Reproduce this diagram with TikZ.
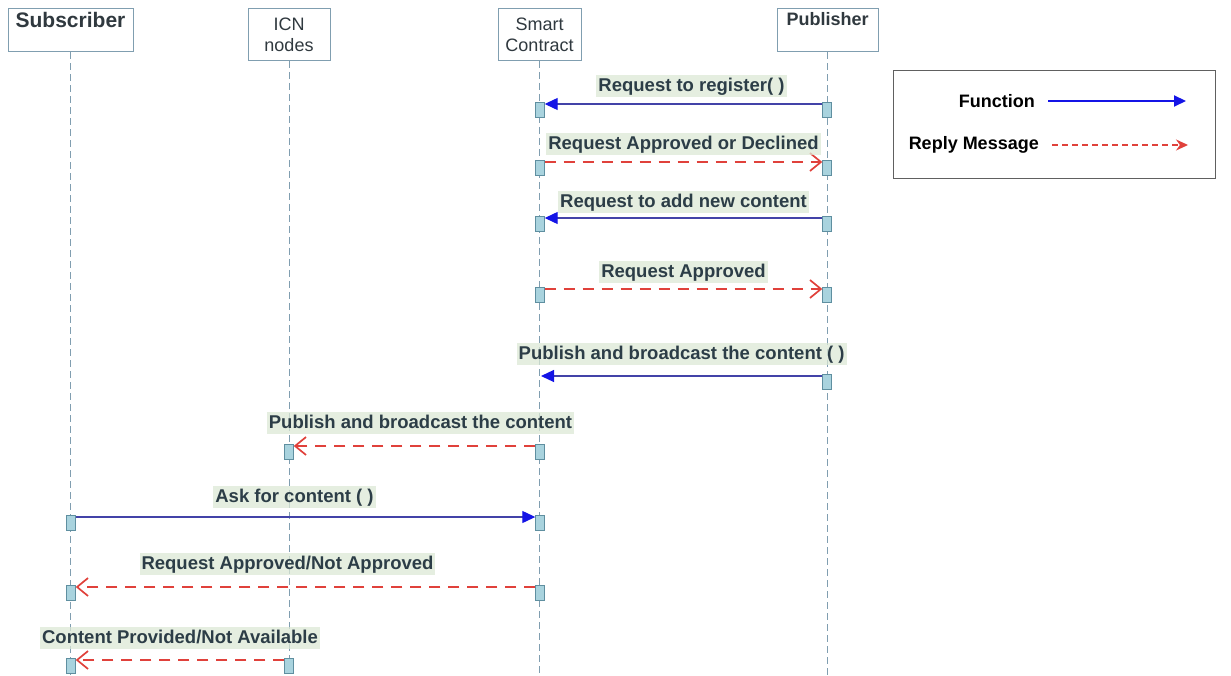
\documentclass[tikz,border=0pt]{standalone}
\usepackage{fontspec}
\setmainfont{Liberation Sans}
\usetikzlibrary{arrows.meta}

\definecolor{boxline}{HTML}{809EB0}
\definecolor{headtxt}{HTML}{30393F}
\definecolor{actfill}{HTML}{A9D3DE}
\definecolor{actline}{HTML}{5F8FA0}
\definecolor{callline}{HTML}{4343A8}
\definecolor{headblue}{HTML}{1414E6}
\definecolor{replyred}{HTML}{E0413B}
\definecolor{lblbg}{HTML}{DCE8D5}
\definecolor{msgtxt}{HTML}{2C3D47}
\definecolor{legline}{HTML}{606060}

\tikzset{
  head/.style={draw=boxline, line width=1pt, fill=white, text=headtxt, align=center,
    anchor=north, inner sep=4pt, font=\fontsize{18}{21}\selectfont},
  act/.style={draw=actline, fill=actfill, minimum width=9pt, minimum height=15pt,
    inner sep=0pt, yshift=-6pt},
  life/.style={draw=boxline, line width=1pt, dash pattern=on 7pt off 4pt},
  call/.style={draw=callline, line width=1.2pt,
    -{Triangle[length=13pt,width=12pt,color=headblue]}},
  reply/.style={draw=replyred, line width=1.7pt, dash pattern=on 11pt off 8pt,
    -{Straight Barb[length=11pt,width=18pt,line width=1.7pt]}},
  msg/.style={fill=lblbg, fill opacity=0.75, text opacity=1, text=msgtxt, inner sep=2pt,
    text height=14pt, text depth=4pt, font=\bfseries\fontsize{18.5}{20}\selectfont},
  legtxt/.style={text=black, inner sep=0pt, font=\bfseries\fontsize{18}{20}\selectfont},
}

\begin{document}
\begin{tikzpicture}[x=1pt, y=-1pt]
  \useasboundingbox (0,0) rectangle (1231,676);
  \coordinate (bot) at (0,676);

  % lifeline heads
  \node[head, minimum width=125pt, text depth=20pt, font=\bfseries\fontsize{21}{24}\selectfont] (sub) at (70.5,8) {Subscriber};
  \node[head, minimum width=82pt, minimum height=52pt] (icn) at (289,8) {ICN\\nodes};
  \node[head, minimum width=83pt, minimum height=52pt] (sc) at (539.5,8) {Smart\\Contract};
  \node[head, minimum width=101pt, text depth=22pt, font=\bfseries\fontsize{18}{21}\selectfont] (pub) at (827.5,8) {Publisher};

  \draw[life] (sub.south) -- (sub.south |- bot);
  \draw[life] (icn.south) -- (icn.south |- bot);
  \draw[life] (sc.south) -- (sc.south |- bot);
  \draw[life] (pub.south) -- (pub.south |- bot);

  % messages
  \node[act] (pub1) at (827,104) {};
  \node[act] (sc1) at (540,104) {};
  \draw[call] ([yshift=6pt]pub1.west) -- ([yshift=6pt]sc1.east)
    node[msg, midway, above=6pt, xshift=8pt] {Request to register( )};

  \node[act] (sc2) at (540,162) {};
  \node[act] (pub2) at (827,162) {};
  \draw[reply] ([yshift=6pt]sc2.east) -- ([yshift=6pt]pub2.west)
    node[msg, midway, above=6pt] {Request Approved or Declined};

  \node[act] (pub3) at (827,218) {};
  \node[act] (sc3) at (540,218) {};
  \draw[call] ([yshift=6pt]pub3.west) -- ([yshift=6pt]sc3.east)
    node[msg, midway, above=4pt] {Request to add new content};

  \node[act] (sc4) at (540,289) {};
  \node[act] (pub4) at (827,289) {};
  \draw[reply] ([yshift=6pt]sc4.east) -- ([yshift=6pt]pub4.west)
    node[msg, midway, above=5pt] {Request Approved};

  \node[act] (pub5) at (827,376) {};
  \coordinate (sc5) at (541,376);
  \draw[call] ([yshift=6pt]pub5.west) -- (sc5)
    node[msg, midway, above=10pt] {Publish and broadcast the content ( )};

  \node[act] (sc6) at (540,446) {};
  \node[act] (icn1) at (289,446) {};
  \draw[reply] ([yshift=6pt]sc6.west) -- ([yshift=6pt]icn1.east)
    node[msg, midway, above=11pt, xshift=6pt] {Publish and broadcast the content};

  \node[act] (sub1) at (71,517) {};
  \node[act] (sc7) at (540,517) {};
  \draw[call] ([yshift=6pt]sub1.east) -- ([yshift=6pt]sc7.west)
    node[msg, midway, above=8pt, xshift=-11pt] {Ask for content ( )};

  \node[act] (sc8) at (540,587) {};
  \node[act] (sub2) at (71,587) {};
  \draw[reply] ([yshift=6pt]sc8.west) -- ([yshift=6pt]sub2.east)
    node[msg, midway, above=11pt, xshift=-18pt] {Request Approved/Not Approved};

  \node[act] (icn2) at (289,660) {};
  \node[act] (sub3) at (71,660) {};
  \draw[reply] ([yshift=6pt]icn2.west) -- ([yshift=6pt]sub3.east)
    node[msg, midway, above=10pt] {Content Provided/Not Available};

  % legend
  \node[draw=legline, line width=1pt, minimum width=322pt, minimum height=108pt,
    anchor=north west] (leg) at (893,70) {};
  \node[legtxt, anchor=east] (fn) at (1035,101) {Function};
  \coordinate (fn1) at (1048,101);
  \coordinate (fn2) at (1186,101);
  \draw[draw=headblue, line width=2pt, -{Triangle[length=12pt,width=11pt]}] (fn1) -- (fn2);
  \node[legtxt, anchor=east] (rm) at (1039,145) {Reply Message};
  \coordinate (rm1) at (1052,145);
  \coordinate (rm2) at (1188,145);
  \draw[draw=replyred, line width=1.5pt, dash pattern=on 6pt off 4pt,
    -{Stealth[length=12pt,width=11pt]}] (rm1) -- (rm2);
\end{tikzpicture}
\end{document}
